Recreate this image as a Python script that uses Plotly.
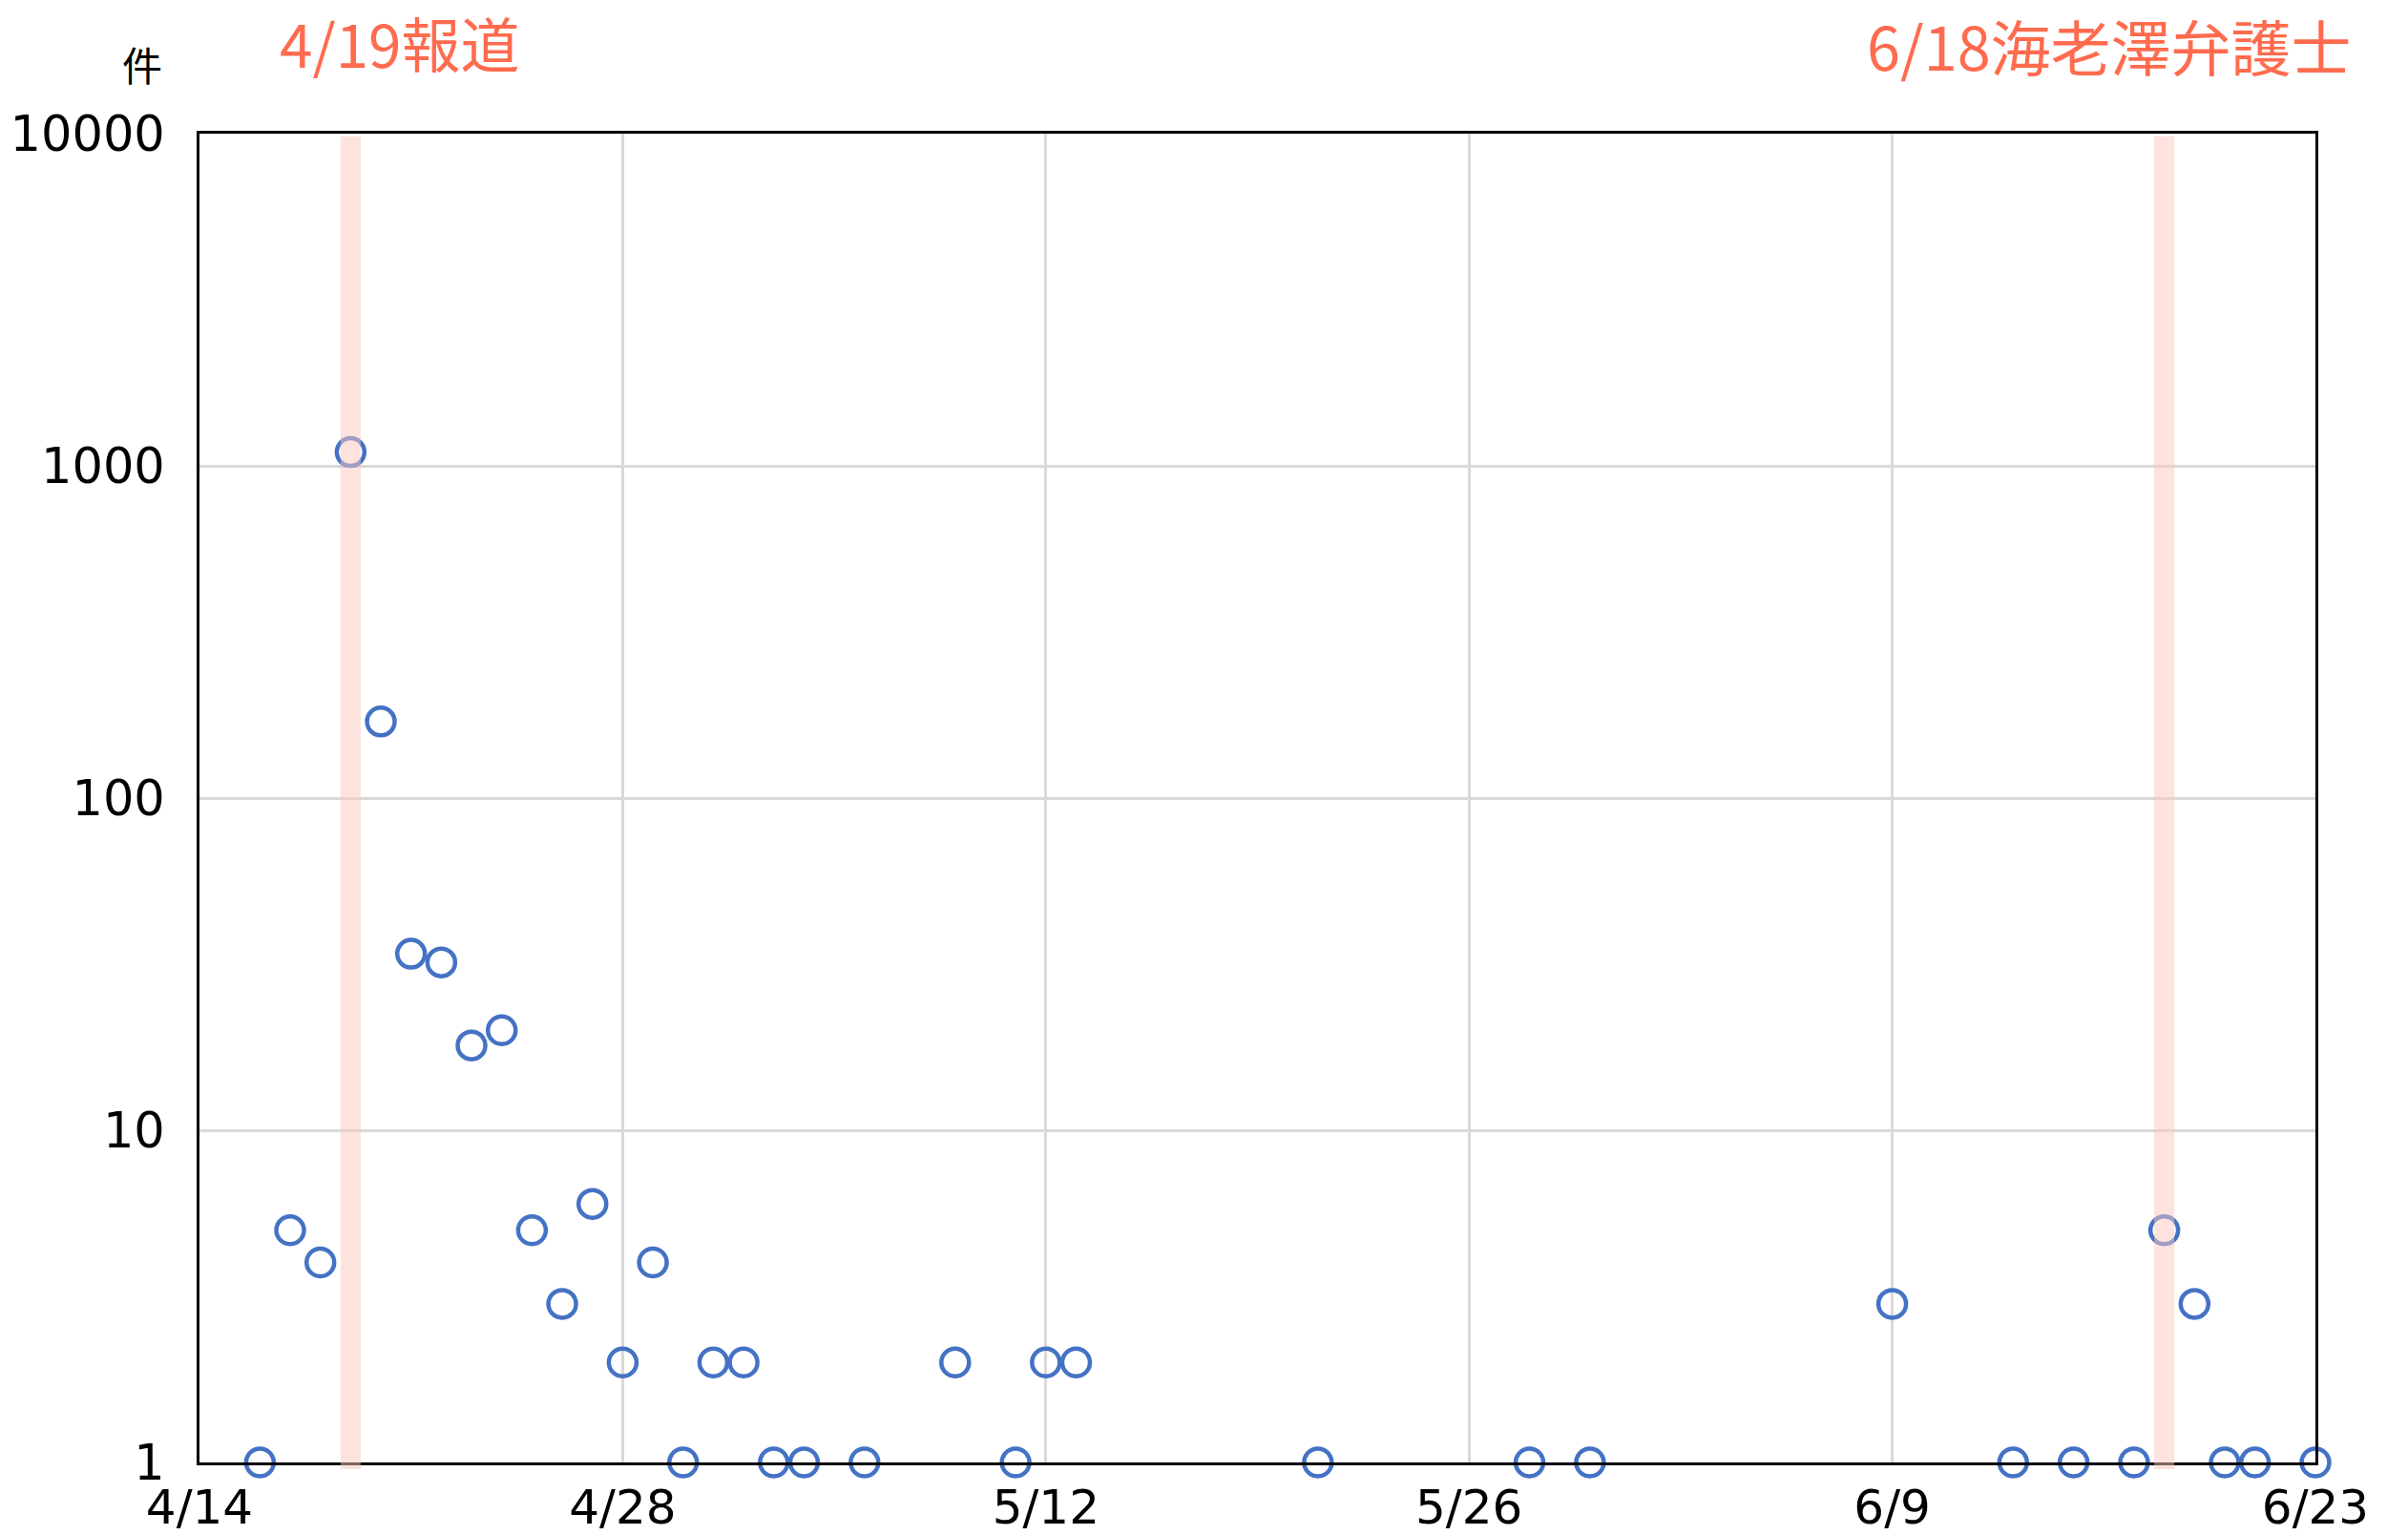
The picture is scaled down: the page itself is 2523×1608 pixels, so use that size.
import plotly.graph_objects as go

dates = ["2024-04-16", "2024-04-17", "2024-04-18", "2024-04-19", "2024-04-20", "2024-04-21",
         "2024-04-22", "2024-04-23", "2024-04-24", "2024-04-25", "2024-04-26", "2024-04-27",
         "2024-04-28", "2024-04-29", "2024-04-30", "2024-05-01", "2024-05-02", "2024-05-03",
         "2024-05-04", "2024-05-06", "2024-05-09", "2024-05-11", "2024-05-12", "2024-05-13",
         "2024-05-21", "2024-05-28", "2024-05-30", "2024-06-09", "2024-06-13", "2024-06-15",
         "2024-06-17", "2024-06-18", "2024-06-19", "2024-06-20", "2024-06-21", "2024-06-23"]
counts = [1, 5, 4, 1100, 170, 34,
          32, 18, 20, 5, 3, 6,
          2, 4, 1, 2, 2, 1,
          1, 1, 2, 1, 2, 2,
          1, 1, 1, 3, 1, 1,
          1, 5, 3, 1, 1, 1]

tick_dates = ["2024-04-14", "2024-04-28", "2024-05-12", "2024-05-26", "2024-06-09", "2024-06-23"]
tick_labels = ["4/14", "4/28", "5/12", "5/26", "6/9", "6/23"]
y_ticks = [1, 10, 100, 1000, 10000]
y_labels = ["1", "10", "100", "1000", "10000"]

events = [("2024-04-18 16:00", "2024-04-19 08:00", "4/19報道"),
          ("2024-06-17 16:00", "2024-06-18 08:00", "6/18海老澤弁護士")]

CJK = "Noto Sans CJK JP"
TICKFONT = "DejaVu Sans"
BLUE = "#4472C4"
ORANGE = "#FF6B4E"

fig = go.Figure()
fig.add_trace(go.Scatter(
    x=dates, y=counts, mode="markers",
    marker=dict(symbol="circle-open", size=29, color=BLUE, line=dict(width=4.5, color=BLUE)),
    cliponaxis=False, showlegend=False,
))

for x0, x1, _ in events:
    fig.add_shape(type="rect", xref="x", yref="paper", x0=x0, x1=x1, y0=-0.005, y1=0.998,
                  fillcolor="rgba(250,200,190,0.5)", line=dict(width=0), layer="above")

fig.add_annotation(text=events[0][2], xref="paper", yref="paper", x=(291 - 209) / 2217, y=1 + (140 - 44) / 1392,
                   xanchor="left", yanchor="middle", showarrow=False,
                   font=dict(family=CJK, size=62, color=ORANGE))
fig.add_annotation(text=events[1][2], xref="paper", yref="paper", x=(2466 - 209) / 2217, y=1 + (140 - 47) / 1392,
                   xanchor="right", yanchor="middle", showarrow=False,
                   font=dict(family=CJK, size=63, color=ORANGE))
fig.add_annotation(text="件", xref="paper", yref="paper", x=(172 - 209) / 2217, y=1 + (140 - 66) / 1392,
                   xanchor="right", yanchor="middle", showarrow=False,
                   font=dict(family=CJK, size=42, color="black"))

fig.update_layout(
    width=2523, height=1608,
    margin=dict(l=209, r=97, t=140, b=76, autoexpand=False),
    paper_bgcolor="white", plot_bgcolor="white",
    font=dict(family=TICKFONT, size=50, color="black"),
)
fig.update_xaxes(
    type="date", range=["2024-04-14", "2024-06-23"],
    tickvals=tick_dates, ticktext=tick_labels,
    showgrid=True, gridcolor="#D9D9D9", gridwidth=3,
    showline=True, linecolor="black", linewidth=3, mirror=True,
    ticks="", ticklabelstandoff=1, tickfont=dict(family=TICKFONT, size=50),
    zeroline=False, automargin=False,
)
fig.update_yaxes(
    type="log", range=[0, 4],
    tickvals=y_ticks, ticktext=y_labels,
    showgrid=True, gridcolor="#D9D9D9", gridwidth=3,
    showline=True, linecolor="black", linewidth=3, mirror=True,
    ticks="", ticklabelstandoff=23, tickfont=dict(family=TICKFONT, size=51),
    zeroline=False, automargin=False,
)

fig.write_html("out.html", config={"displayModeBar": False})

with open("out.html", "r", encoding="utf-8") as f:
    html = f.read()
html = html.replace("<head>", "<head><style>html,body{margin:0;padding:0;overflow:hidden;}</style>", 1)
with open("out.html", "w", encoding="utf-8") as f:
    f.write(html)
